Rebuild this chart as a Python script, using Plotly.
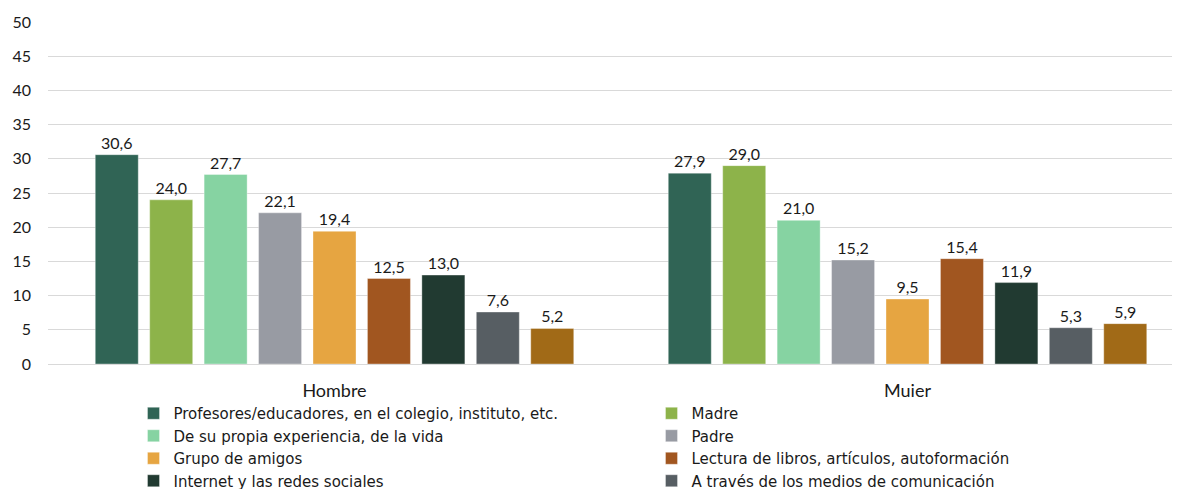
import plotly.graph_objects as go

grupos = ["Hombre", "Mujer"]

fuentes = [
    "Profesores/educadores, en el colegio, instituto, etc.",
    "Madre",
    "De su propia experiencia, de la vida",
    "Padre",
    "Grupo de amigos",
    "Lectura de libros, artículos, autoformación",
    "Internet y las redes sociales",
    "A través de los medios de comunicación",
    "Otros",
]

hombre = [30.6, 24.0, 27.7, 22.1, 19.4, 12.5, 13.0, 7.6, 5.2]
mujer = [27.9, 29.0, 21.0, 15.2, 9.5, 15.4, 11.9, 5.3, 5.9]

colores = ["#306455", "#8DB34A", "#86D3A2", "#989BA3", "#E6A541",
           "#A15620", "#213A31", "#575E63", "#A16A17"]

FONT = "Lato, 'Open Sans', sans-serif"

fig = go.Figure()

for i, nombre in enumerate(fuentes):
    fig.add_trace(go.Bar(
        x=grupos,
        y=[hombre[i], mujer[i]],
        name=nombre,
        marker=dict(color=colores[i], line=dict(color="rgba(255,255,255,0.35)", width=1)),
        texttemplate="%{y:.1f}",
        textposition="outside",
        textfont=dict(size=16, color="#1a1a1a", family=FONT),
        cliponaxis=False,
        showlegend=(i < 8),
    ))

fig.update_layout(
    barmode="group",
    bargap=0.145,
    bargroupgap=0.21,
    separators=",.",
    width=1180,
    height=489,
    margin=dict(l=40, r=0, t=14, b=133, autoexpand=False),
    plot_bgcolor="white",
    paper_bgcolor="white",
    font=dict(family=FONT, size=16, color="#1a1a1a"),
    xaxis=dict(
        range=[-0.5, 1.4895],
        showgrid=False,
        showline=False,
        ticks="",
        tickfont=dict(size=18),
        ticklabelstandoff=14,
    ),
    yaxis=dict(
        range=[0, 50],
        dtick=5,
        showgrid=True,
        gridcolor="#D9D9D9",
        gridwidth=1,
        zeroline=True,
        zerolinecolor="#D9D9D9",
        zerolinewidth=1,
        tickfont=dict(size=16),
        ticklabelstandoff=16,
    ),
    legend=dict(
        orientation="h",
        entrywidth=473,
        entrywidthmode="pixels",
        x=0.075,
        xanchor="left",
        y=-0.0965,
        yanchor="top",
        font=dict(size=15, family="'DejaVu Sans', sans-serif", color="#1a1a1a"),
        tracegroupgap=0,
        itemclick=False,
    ),
)

fig.write_html("out.html")
